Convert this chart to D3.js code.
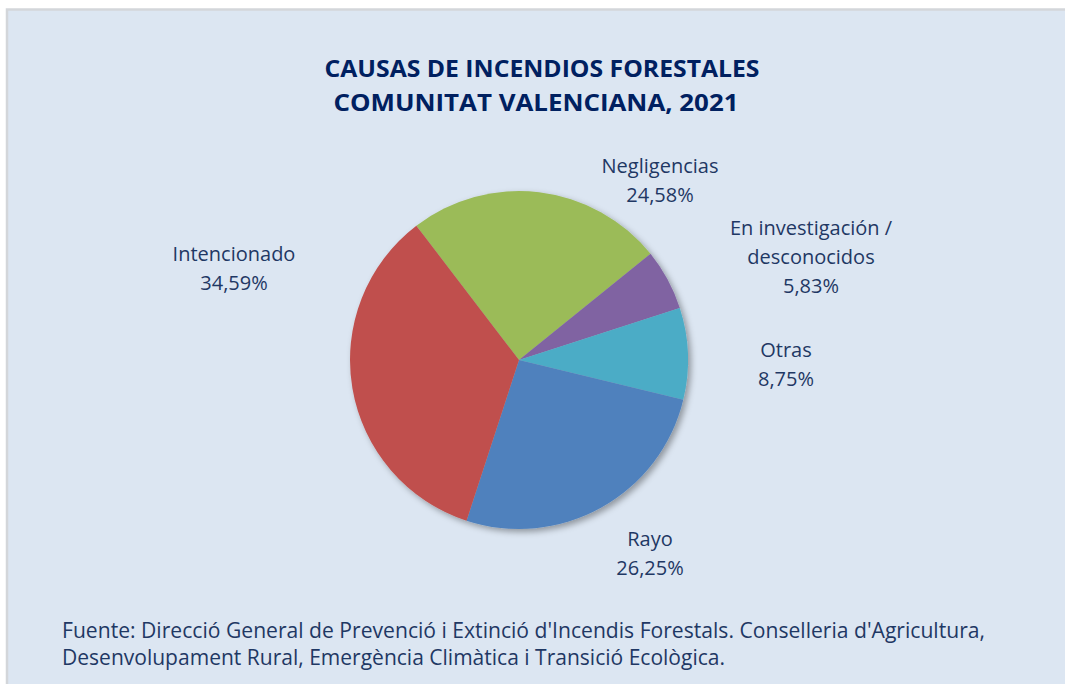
<!DOCTYPE html>
<html>
<head>
<meta charset="utf-8">
<script src="https://cdn.jsdelivr.net/npm/d3@7"></script>
<style>
  html, body { margin: 0; padding: 0; background: #fff; }
  svg { display: block; }
</style>
</head>
<body>
<figure id="pie" style="margin:0"></figure>
<script>
// data
const categories = ["Negligencias", "En investigación / desconocidos", "Otras", "Rayo", "Intencionado"];
const values = [24.58, 5.83, 8.75, 26.25, 34.59];
const valueLabels = ["24,58%", "5,83%", "8,75%", "26,25%", "34,59%"];
const colors = ["#9bbb59", "#8064a2", "#4bacc6", "#4f81bd", "#c0504d"];

const width = 1065, height = 684;
const cx = 519, cy = 360, radius = 169;
const textColor = "#1f3864";
const font = "'Open Sans', Lato, sans-serif";

// label anchors (relative to pie centre) and line breaks
const labelLayout = {
  "Negligencias": { dx: 141, dy: -187, lines: ["Negligencias"] },
  "En investigación / desconocidos": { dx: 292, dy: -125, lines: ["En investigación /", "desconocidos"] },
  "Otras": { dx: 267, dy: -3, lines: ["Otras"] },
  "Rayo": { dx: 131, dy: 186, lines: ["Rayo"] },
  "Intencionado": { dx: -285, dy: -99, lines: ["Intencionado"] }
};

const svg = d3.select("figure#pie")
  .append("svg")
  .attr("width", width)
  .attr("height", height);

// chart area background + border
svg.append("rect")
  .attr("x", 7).attr("y", 9.5)
  .attr("width", width + 10).attr("height", height + 10)
  .attr("fill", "#dce6f2")
  .attr("stroke", "#d3d6da")
  .attr("stroke-width", 2.5);

const defs = svg.append("defs");
const shadow = defs.append("filter")
  .attr("id", "shadow")
  .attr("x", "-20%").attr("y", "-20%")
  .attr("width", "140%").attr("height", "140%");
shadow.append("feDropShadow")
  .attr("dx", 3).attr("dy", 3)
  .attr("stdDeviation", 3)
  .attr("flood-color", "#000")
  .attr("flood-opacity", 0.35);

// title
const title = svg.append("text")
  .attr("text-anchor", "middle")
  .style("font-family", font)
  .style("font-weight", "bold")
  .style("font-size", "24px")
  .attr("fill", "#002060");
title.append("tspan").attr("x", 542).attr("y", 77)
  .attr("textLength", 435).attr("lengthAdjust", "spacingAndGlyphs")
  .text("CAUSAS DE INCENDIOS FORESTALES");
title.append("tspan").attr("x", 536).attr("y", 111)
  .attr("textLength", 405).attr("lengthAdjust", "spacingAndGlyphs")
  .text("COMUNITAT VALENCIANA, 2021");

const data = categories.map((c, i) => ({ name: c, value: values[i], label: valueLabels[i], color: colors[i] }));

const pie = d3.pie()
  .sort(null)
  .value(d => d.value)
  .startAngle(-37.4 * Math.PI / 180)
  .endAngle((360 - 37.4) * Math.PI / 180);

const arc = d3.arc().innerRadius(0).outerRadius(radius);

const g = svg.append("g").attr("transform", `translate(${cx}, ${cy})`);

g.append("g")
  .attr("filter", "url(#shadow)")
  .selectAll("path")
  .data(pie(data))
  .enter()
  .append("path")
  .attr("d", arc)
  .attr("fill", d => d.data.color);

// labels
const labels = g.selectAll("text.lbl")
  .data(pie(data))
  .enter()
  .append("text")
  .attr("class", "lbl")
  .attr("text-anchor", "middle")
  .style("font-family", font)
  .style("font-size", "20px")
  .attr("fill", textColor);

labels.each(function(d) {
  const lay = labelLayout[d.data.name];
  const t = d3.select(this);
  const lines = lay.lines.concat([d.data.label]);
  lines.forEach((ln, i) => {
    t.append("tspan")
      .attr("x", lay.dx)
      .attr("y", lay.dy + i * 29)
      .text(ln);
  });
});

// source note
const src = svg.append("text")
  .style("font-family", font)
  .style("font-size", "21px")
  .attr("fill", textColor);
src.append("tspan").attr("x", 62).attr("y", 638)
  .attr("textLength", 923).attr("lengthAdjust", "spacingAndGlyphs")
  .text("Fuente: Direcció General de Prevenció i Extinció d'Incendis Forestals. Conselleria d'Agricultura,");
src.append("tspan").attr("x", 62).attr("y", 665)
  .attr("textLength", 663).attr("lengthAdjust", "spacingAndGlyphs")
  .text("Desenvolupament Rural, Emergència Climàtica i Transició Ecològica.");
</script>
</body>
</html>
